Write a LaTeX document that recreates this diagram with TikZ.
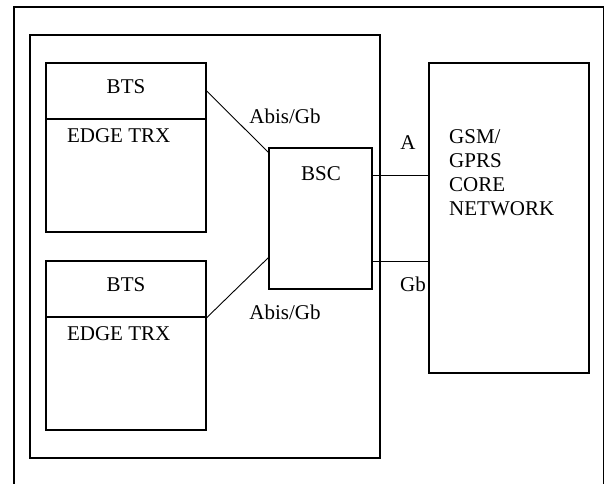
\documentclass[tikz,border=0pt]{standalone}
\usepackage{fontspec}
\setmainfont{Liberation Serif}
\tikzset{
  box/.style={draw,line width=1.4pt,inner sep=0pt},
  link/.style={line width=0.9pt},
  lbl/.style={inner sep=0pt,font=\fontsize{21}{24}\selectfont}
}
\begin{document}
\begin{tikzpicture}[x=1pt,y=-1pt]
  \clip (0,0) rectangle (605,483);
  % --- outer frame
  \draw[line width=1.3pt] (14,7) rectangle (603.5,500);
  % --- base station subsystem
  \node[box,minimum width=350,minimum height=423] (bss) at (205,246.5) {};
  \node[box,minimum width=160,minimum height=169] (btsA) at (126,147.5) {};
  \node[box,minimum width=160,minimum height=56,anchor=north] (btsAhead) at (btsA.north) {};
  \node[box,minimum width=160,minimum height=169] (btsB) at (126,345.5) {};
  \node[box,minimum width=160,minimum height=56,anchor=north] (btsBhead) at (btsB.north) {};
  \node[box,minimum width=103,minimum height=141] (bsc) at (320.5,218.5) {};
  % --- core network
  \node[box,minimum width=160,minimum height=310] (core) at (509,218) {};
  % --- links
  \draw[link] (btsAhead.east) -- ([yshift=-5pt]bsc.north west);
  \draw[link] (btsBhead.south east) -- ([yshift=32pt]bsc.south west);
  \draw[link] ([yshift=-28pt]bsc.north east) coordinate (aL) -- (aL -| core.west);
  \draw[link] ([yshift=28pt]bsc.south east) coordinate (gbL) -- (gbL -| core.west);
  % --- texts
  \node[lbl,anchor=base] (btsAname) at (126,93) {BTS};
  \node[lbl,anchor=base] (btsAtrx) at (118.7,142.7) {EDGE TRX};
  \node[lbl,anchor=base] (btsBname) at (126,291.7) {BTS};
  \node[lbl,anchor=base] (btsBtrx) at (118.7,340) {EDGE TRX};
  \node[lbl,anchor=base] (bscname) at (321,180) {BSC};
  \node[lbl,anchor=base] (abisA) at (285,123) {Abis/Gb};
  \node[lbl,anchor=base] (abisB) at (285,319) {Abis/Gb};
  \node[lbl,anchor=base] (ifA) at (408,149) {A};
  \node[lbl,anchor=base] (ifGb) at (413,291.5) {Gb};
  \foreach \w [count=\i] in {GSM/,GPRS,CORE,NETWORK}
    \node[lbl,anchor=base west] (core\i) at (449,{119+24*\i}) {\w};
\end{tikzpicture}
\end{document}
